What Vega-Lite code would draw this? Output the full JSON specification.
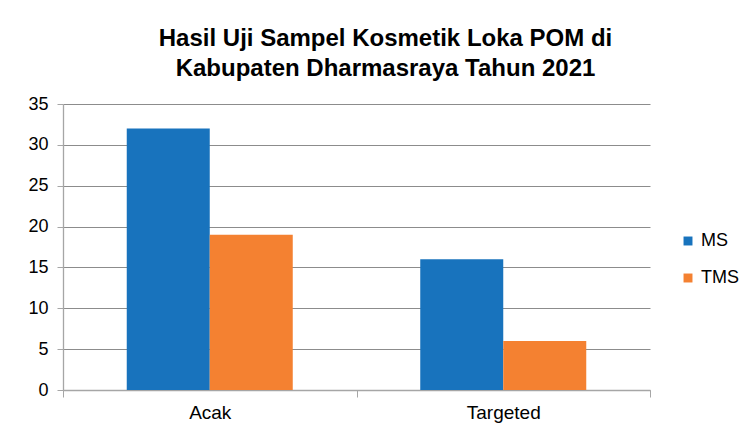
{
  "$schema": "https://vega.github.io/schema/vega-lite/v6.json",
  "autosize": {"type": "none"},
  "width": 587,
  "height": 286,
  "padding": {"left": 63, "top": 104, "right": 96, "bottom": 42},
  "background": "white",
  "title": {
    "text": ["Hasil Uji Sampel Kosmetik Loka POM di", "Kabupaten Dharmasraya Tahun 2021"],
    "font": "Liberation Sans",
    "fontSize": 24,
    "fontWeight": "bold",
    "color": "#000000",
    "anchor": "middle",
    "frame": "group",
    "dx": 29,
    "lineHeight": 30,
    "offset": 14
  },
  "data": {
    "values": [
      {"kategori": "Acak", "hasil": "MS", "jumlah": 32},
      {"kategori": "Acak", "hasil": "TMS", "jumlah": 19},
      {"kategori": "Targeted", "hasil": "MS", "jumlah": 16},
      {"kategori": "Targeted", "hasil": "TMS", "jumlah": 6}
    ]
  },
  "mark": {"type": "bar"},
  "encoding": {
    "x": {
      "field": "kategori",
      "type": "nominal",
      "sort": ["Acak", "Targeted"],
      "scale": {"paddingInner": 0, "paddingOuter": 0},
      "axis": {
        "title": null,
        "labelAngle": 0,
        "labelFont": "Liberation Sans",
        "labelFontSize": 19,
        "labelColor": "#000000",
        "labelPadding": 6,
        "domainColor": "#a6a6a6",
        "domainWidth": 1.3,
        "tickColor": "#a6a6a6",
        "tickBand": "extent",
        "tickSize": 7,
        "grid": false
      }
    },
    "xOffset": {"field": "hasil", "type": "nominal", "sort": ["MS", "TMS"], "scale": {"paddingInner": 0, "paddingOuter": 0.768}},
    "y": {
      "field": "jumlah",
      "type": "quantitative",
      "scale": {"domain": [0, 35], "nice": false},
      "axis": {
        "title": null,
        "values": [0, 5, 10, 15, 20, 25, 30, 35],
        "labelFont": "Liberation Sans",
        "labelFontSize": 18,
        "labelColor": "#000000",
        "labelPadding": 9,
        "domainColor": "#a6a6a6",
        "domainWidth": 1.3,
        "tickColor": "#a6a6a6",
        "tickSize": 6,
        "gridColor": "#8c8c8c",
        "gridWidth": 1
      }
    },
    "color": {
      "field": "hasil",
      "type": "nominal",
      "scale": {"domain": ["MS", "TMS"], "range": ["#1873BD", "#F48131"]},
      "legend": {
        "title": null,
        "orient": "none",
        "legendX": 616,
        "legendY": 128,
        "symbolType": "square",
        "symbolSize": 80,
        "symbolStrokeWidth": 0,
        "labelFont": "Liberation Sans",
        "labelFontSize": 18,
        "labelColor": "#000000",
        "labelOffset": 4,
        "rowPadding": 19
      }
    }
  },
  "config": {
    "view": {"stroke": null}
  }
}
